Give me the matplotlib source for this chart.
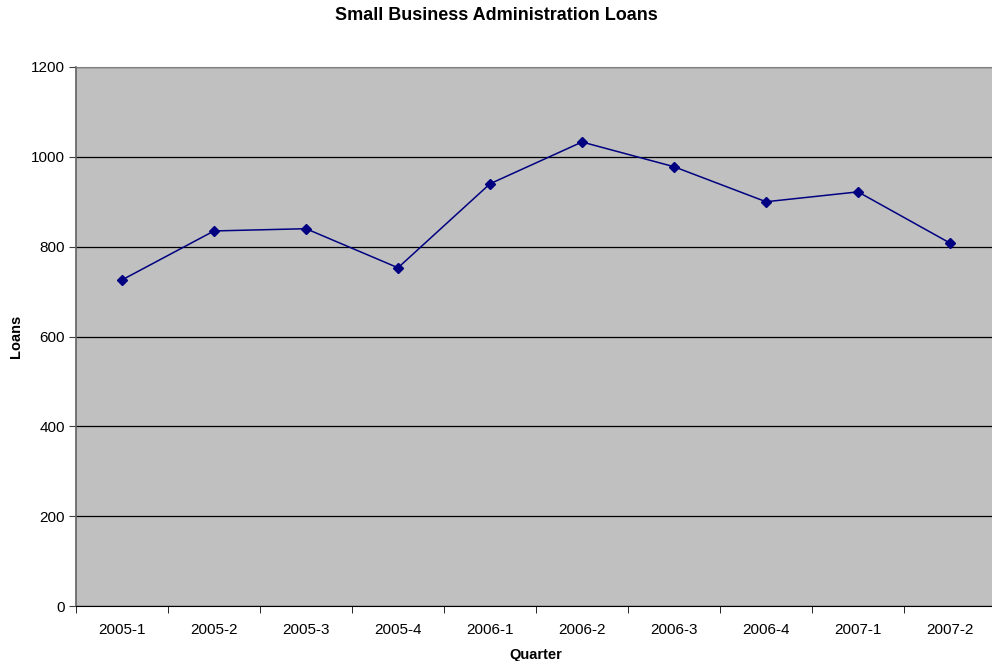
import matplotlib
matplotlib.use("Agg")
import matplotlib.pyplot as plt
from matplotlib.ticker import FixedLocator, MultipleLocator

quarters = ["2005-1", "2005-2", "2005-3", "2005-4", "2006-1",
            "2006-2", "2006-3", "2006-4", "2007-1", "2007-2"]
loans = [726, 835, 840, 753, 940, 1033, 978, 900, 922, 808]

plt.rcParams['font.family'] = ['Liberation Sans', 'DejaVu Sans']

fig = plt.figure(figsize=(9.92, 6.61), dpi=100)
ax = fig.add_axes([76/992, 1-606/661, 920/992, (606-67)/661])
ax.set_facecolor('#C0C0C0')

x = list(range(len(quarters)))
ax.plot(x, loans, color='#000080', linewidth=1.1, marker='D', markersize=5,
        markerfacecolor='#000080', markeredgecolor='#000080', zorder=3)

ax.set_xlim(-0.5, len(quarters) - 0.5)
ax.set_ylim(0, 1200)
ax.yaxis.set_major_locator(MultipleLocator(200))
ax.grid(axis='y', color='black', linewidth=0.9)
ax.set_axisbelow(True)

ax.set_xticks(x)
ax.set_xticklabels(quarters, fontsize=11)
ax.xaxis.set_minor_locator(FixedLocator([i - 0.5 for i in range(len(quarters) + 1)]))
ax.tick_params(axis='x', which='major', length=0, pad=12)
ax.tick_params(axis='x', which='minor', length=5, direction='out', color='black')
ax.tick_params(axis='y', length=5, direction='out', labelsize=11, pad=3, color='#404040')

for s in ['top', 'right']:
    ax.spines[s].set_color('#808080')
ax.spines['left'].set_color('#606060')
ax.spines['left'].set_linewidth(1.2)
ax.spines['bottom'].set_color('black')

ax.set_xlabel('Quarter', fontsize=10.5, fontweight='bold', labelpad=8)
ax.set_ylabel('Loans', fontsize=10.5, fontweight='bold', labelpad=6)
fig.text(0.5, 1-16/661, 'Small Business Administration Loans', ha='center', va='center',
         fontsize=13, fontweight='bold')

fig.savefig('out.png', dpi=100)
